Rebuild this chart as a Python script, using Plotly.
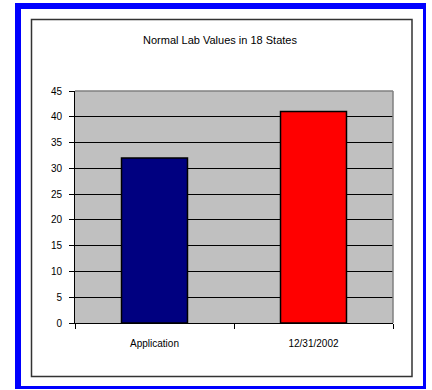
import plotly.graph_objects as go

categories = ["Application", "12/31/2002"]
values = [32, 41]
bar_colors = ["#000080", "#FF0000"]
title_text = "Normal Lab Values in 18 States"

W, H = 432, 390
L, R, T, B = 75, 393, 91, 323  # plot area pixel bounds

def px(x):
    return (x - L) / (R - L)

def py(y):
    return (B - y) / (B - T)

fig = go.Figure()
fig.add_trace(go.Bar(
    x=categories, y=values, width=0.415,
    marker=dict(color=bar_colors, line=dict(color="#000000", width=1.5)),
    showlegend=False,
))

shapes = [
    # blue frame
    dict(type="rect", xref="paper", yref="paper", layer="below",
         x0=px(15), x1=px(426), y0=py(389), y1=py(3),
         fillcolor="#0000FF", line=dict(width=0)),
    dict(type="rect", xref="paper", yref="paper", layer="below",
         x0=px(21), x1=px(423), y0=py(386), y1=py(9),
         fillcolor="#FFFFFF", line=dict(width=0)),
    # inner dark border
    dict(type="rect", xref="paper", yref="paper", layer="below",
         x0=px(31.5), x1=px(412), y0=py(376.5), y1=py(19.5),
         fillcolor="rgba(0,0,0,0)", line=dict(color="#333333", width=1.5)),
    # plot area grey fill
    dict(type="rect", xref="paper", yref="paper", layer="below",
         x0=0, x1=1, y0=0, y1=1,
         fillcolor="#C0C0C0", line=dict(width=0)),
    # plot area grey border top & right
    dict(type="line", xref="paper", yref="paper", layer="above",
         x0=0, x1=1, y0=1, y1=1, line=dict(color="#808080", width=1.5)),
    dict(type="line", xref="paper", yref="paper", layer="above",
         x0=1, x1=1, y0=0, y1=1, line=dict(color="#808080", width=1.5)),
]

fig.update_layout(
    width=W, height=H,
    margin=dict(l=L, r=W - R, t=T, b=H - B, pad=0),
    paper_bgcolor="#FFFFFF",
    plot_bgcolor="#C0C0C0",
    font=dict(family="Arial, Liberation Sans, sans-serif", size=10, color="#000000"),
    title=dict(text=title_text, x=px(220), xref="paper", xanchor="center",
               y=1 - 40 / H, yref="container", yanchor="middle",
               font=dict(size=11, color="#000000")),
    shapes=shapes,
    xaxis=dict(
        type="category", tickson="boundaries", ticks="outside", ticklen=5,
        tickcolor="#000000", showline=True, linecolor="#000000", linewidth=1,
        showgrid=False, tickfont=dict(size=10), ticklabelstandoff=11,
    ),
    yaxis=dict(
        range=[0, 45], dtick=5, tick0=0, ticks="outside", ticklen=5,
        tickcolor="#000000", showline=True, linecolor="#000000", linewidth=1,
        showgrid=True, gridcolor="#000000", gridwidth=1, zeroline=False,
        tickfont=dict(size=10), ticklabelstandoff=5,
    ),
)

fig.write_html("out.html")
